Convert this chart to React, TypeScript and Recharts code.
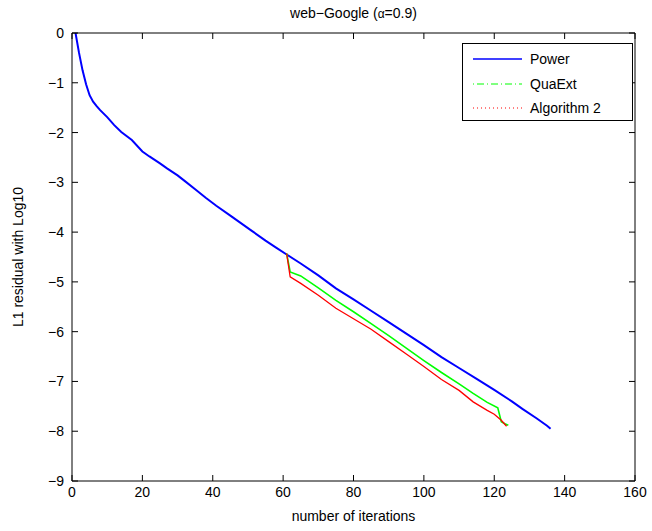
import React from "react";
import { LineChart, Line, XAxis, YAxis } from "recharts";

// iterations and log10 L1 residuals
const powerIter = [1, 2, 3, 4, 5, 6, 7, 8, 10, 12, 14, 17, 20, 22, 25, 27, 30, 32, 35, 38, 41, 45, 48, 51, 55, 58, 61, 65, 70, 75, 80, 85, 90, 95, 100, 105, 110, 115, 120, 125, 128, 132, 135, 136];
const powerRes = [0, -0.4, -0.75, -1.03, -1.25, -1.38, -1.47, -1.55, -1.69, -1.85, -1.99, -2.15, -2.38, -2.48, -2.62, -2.72, -2.86, -2.97, -3.14, -3.31, -3.47, -3.67, -3.82, -3.97, -4.17, -4.31, -4.45, -4.63, -4.87, -5.13, -5.35, -5.58, -5.81, -6.04, -6.27, -6.51, -6.73, -6.95, -7.17, -7.4, -7.55, -7.74, -7.89, -7.95];

const quaIter = [61, 62, 65, 70, 75, 80, 85, 90, 95, 100, 105, 110, 114, 118, 121, 122, 123, 124];
const quaRes = [-4.43, -4.8, -4.88, -5.12, -5.37, -5.6, -5.84, -6.08, -6.33, -6.58, -6.82, -7.05, -7.24, -7.42, -7.53, -7.81, -7.85, -7.88];

const algIter = [61, 62, 65, 70, 75, 80, 85, 90, 95, 100, 105, 110, 114, 118, 120, 122, 123.5];
const algRes = [-4.43, -4.9, -5.03, -5.27, -5.53, -5.74, -5.95, -6.2, -6.45, -6.7, -6.96, -7.18, -7.41, -7.58, -7.66, -7.78, -7.9];

const xTicks = [0, 20, 40, 60, 80, 100, 120, 140, 160];
const yTicks = [0, -1, -2, -3, -4, -5, -6, -7, -8, -9];

const toPoints = (its: number[], vals: number[]) =>
  its.map((it, i) => ({ it, v: vals[i] }));

const powerData = toPoints(powerIter, powerRes);
const quaData = toPoints(quaIter, quaRes);
const algData = toPoints(algIter, algRes);

const FONT = "'Liberation Sans', Arial, Helvetica, sans-serif";
const axisStyle = { stroke: "#000", strokeWidth: 1 };
const TL = 6; // inward tick length

const fmt = (v: number) => String(v).replace("-", "\u2212");

// ticks point into the plot, like MATLAB
const BottomTick = (props: any) => {
  const { x, y, payload } = props;
  const ay = y - 6;
  return (
    <g>
      <path d={`M${x},${ay}V${ay - TL}`} stroke="#000" strokeWidth={1} fill="none" />
      <text x={x} y={y} dy="0.71em" textAnchor="middle" fontSize={14} fontFamily={FONT} fill="#000">
        {fmt(payload.value)}
      </text>
    </g>
  );
};

const LeftTick = (props: any) => {
  const { x, y, payload } = props;
  const ax = x + 8;
  return (
    <g>
      <path d={`M${ax},${y}H${ax + TL}`} stroke="#000" strokeWidth={1} fill="none" />
      <text x={x} y={y} dy="0.355em" textAnchor="end" fontSize={14} fontFamily={FONT} fill="#000">
        {fmt(payload.value)}
      </text>
    </g>
  );
};

const TopTick = (props: any) => {
  const { x, y } = props;
  return <path d={`M${x},${y}V${y + TL}`} stroke="#000" strokeWidth={1} fill="none" />;
};

const RightTick = (props: any) => {
  const { x, y } = props;
  return <path d={`M${x},${y}H${x - TL}`} stroke="#000" strokeWidth={1} fill="none" />;
};

const legendItems = [
  { name: "Power", color: "#0000ff", dash: undefined, width: 1.5 },
  { name: "QuaExt", color: "#00ff00", dash: "1 3 7 3", width: 1 },
  { name: "Algorithm 2", color: "#ff0000", dash: "1 3", width: 1 },
];

const App = () => {
  return (
    <div
      style={{
        position: "absolute",
        left: 0,
        top: 0,
        width: 652,
        height: 531,
        background: "#fff",
        fontFamily: FONT,
        color: "#000",
      }}
    >
      <LineChart
        width={652}
        height={531}
        margin={{ top: 32, right: 16, left: 0, bottom: 0 }}
      >
        <XAxis
          dataKey="it"
          type="number"
          domain={[0, 160]}
          ticks={xTicks}
          interval={0}
          height={50}
          tickSize={0}
          tickMargin={6}
          tick={<BottomTick />}
          tickLine={false}
          axisLine={axisStyle}
          allowDataOverflow
        />
        <XAxis
          xAxisId="top"
          orientation="top"
          dataKey="it"
          type="number"
          domain={[0, 160]}
          ticks={xTicks}
          interval={0}
          height={1}
          tickSize={0}
          tickMargin={0}
          tick={<TopTick />}
          tickLine={false}
          axisLine={axisStyle}
          allowDataOverflow
        />
        <YAxis
          type="number"
          domain={[-9, 0]}
          ticks={yTicks}
          interval={0}
          width={72}
          tickSize={0}
          tickMargin={8}
          tick={<LeftTick />}
          tickLine={false}
          axisLine={axisStyle}
          allowDataOverflow
        />
        <YAxis
          yAxisId="right"
          orientation="right"
          type="number"
          domain={[-9, 0]}
          ticks={yTicks}
          interval={0}
          width={1}
          tickSize={0}
          tickMargin={0}
          tick={<RightTick />}
          tickLine={false}
          axisLine={axisStyle}
          allowDataOverflow
        />
        <Line
          data={powerData}
          dataKey="v"
          xAxisId="top"
          yAxisId="right"
          stroke="#0000ff"
          strokeWidth={2}
          dot={false}
          isAnimationActive={false}
          type="linear"
        />
        <Line
          data={quaData}
          dataKey="v"
          stroke="#00ff00"
          strokeWidth={1.6}
          dot={false}
          isAnimationActive={false}
          type="linear"
        />
        <Line
          data={algData}
          dataKey="v"
          stroke="#ff0000"
          strokeWidth={1.3}
          dot={false}
          isAnimationActive={false}
          type="linear"
        />
      </LineChart>

      <div
        style={{
          position: "absolute",
          left: 72,
          width: 563,
          top: 5,
          textAlign: "center",
          fontSize: 14,
        }}
      >
        web−Google (<span style={{ fontSize: 12 }}>α</span>=0.9)
      </div>

      <div
        style={{
          position: "absolute",
          left: 72,
          width: 563,
          top: 508,
          textAlign: "center",
          fontSize: 14,
        }}
      >
        number of iterations
      </div>

      <div
        style={{
          position: "absolute",
          left: 18,
          top: 257,
          transform: "translate(-50%, -50%) rotate(-90deg)",
          whiteSpace: "nowrap",
          fontSize: 14,
        }}
      >
        L1 residual with Log10
      </div>

      <div
        style={{
          position: "absolute",
          left: 462,
          top: 43,
          width: 171,
          height: 78,
          boxSizing: "border-box",
          border: "1px solid #000",
          background: "#fff",
          zIndex: 1,
        }}
      >
        {legendItems.map((item, i) => (
          <div
            key={item.name}
            style={{
              position: "absolute",
              left: 0,
              top: 6 + i * 24.5,
              height: 18,
              width: "100%",
              display: "flex",
              alignItems: "center",
              fontSize: 14,
            }}
          >
            <svg width={49} height={10} style={{ marginLeft: 10, marginRight: 8 }}>
              <line
                x1={0}
                x2={49}
                y1={5}
                y2={5}
                stroke={item.color}
                strokeWidth={item.width}
                strokeDasharray={item.dash}
              />
            </svg>
            <span>{item.name}</span>
          </div>
        ))}
      </div>
    </div>
  );
};

export default App;
